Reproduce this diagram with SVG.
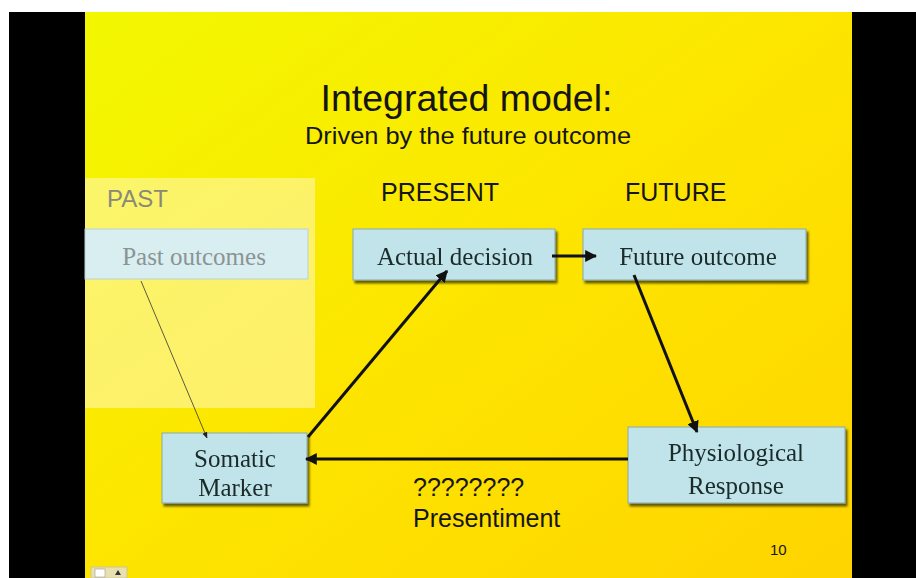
<svg xmlns="http://www.w3.org/2000/svg" width="916" height="578" viewBox="0 0 916 578">
<defs>
<linearGradient id="bg" x1="0" y1="0" x2="1" y2="1">
<stop offset="0" stop-color="#f2f800"/>
<stop offset="0.5" stop-color="#fde500"/>
<stop offset="1" stop-color="#ffd400"/>
</linearGradient>
<filter id="sh" x="-10%" y="-10%" width="130%" height="140%">
<feGaussianBlur in="SourceAlpha" stdDeviation="1.2"/>
<feOffset dx="2" dy="3" result="b"/>
<feComponentTransfer><feFuncA type="linear" slope="0.6"/></feComponentTransfer>
<feMerge><feMergeNode/><feMergeNode in="SourceGraphic"/></feMerge>
</filter>
<marker id="ah" viewBox="0 0 10 10" refX="9" refY="5" markerWidth="4" markerHeight="4" markerUnits="strokeWidth" orient="auto">
<path d="M0,0 L10,5 L0,10 z" fill="#111"/>
</marker>
<marker id="ahs" viewBox="0 0 10 10" refX="9" refY="5" markerWidth="8" markerHeight="8" markerUnits="strokeWidth" orient="auto">
<path d="M0,1 L10,5 L0,9 z" fill="#222"/>
</marker>
</defs>
<style>
.box{fill:#c0e4ea;stroke:#86a9b0;stroke-width:1}
.bt{font-family:"Liberation Serif",serif;font-size:25px;fill:#1a2a2a;text-anchor:middle}
.st{font-family:"Liberation Sans",Arial,sans-serif;fill:#151515}
.conn{stroke:#111;stroke-width:3;fill:none}
</style>
<rect x="0" y="0" width="916" height="578" fill="#ffffff"/>
<rect x="9" y="12" width="907" height="566" fill="#000"/>
<rect x="85" y="12" width="767" height="566" fill="url(#bg)"/>
<rect x="85" y="178" width="230" height="230" fill="#fff8c0" opacity="0.55"/>
<text class="st" x="466.5" y="111" font-size="37.5" text-anchor="middle">Integrated model:</text>
<text class="st" x="468" y="144" font-size="24" text-anchor="middle" textLength="326" lengthAdjust="spacingAndGlyphs">Driven by the future outcome</text>
<text class="st" x="107" y="207" font-size="24" style="fill:#8a8878">PAST</text>
<text class="st" x="381" y="201" font-size="25">PRESENT</text>
<text class="st" x="625" y="201" font-size="25">FUTURE</text>
<g id="past-outcomes">
<rect x="85" y="229" width="223" height="50" fill="#d9eef0" stroke="#b8d2d4" stroke-width="1"/>
<text class="bt" x="194" y="265" style="fill:#8a9494">Past outcomes</text>
</g>
<g id="actual-decision" filter="url(#sh)">
<rect class="box" x="353" y="229" width="202" height="51"/>
<text class="bt" x="455" y="265">Actual decision</text>
</g>
<g id="future-outcome" filter="url(#sh)">
<rect class="box" x="583" y="229" width="223" height="51"/>
<text class="bt" x="698" y="265">Future outcome</text>
</g>
<g id="somatic-marker" filter="url(#sh)">
<rect class="box" x="162" y="433" width="145" height="70"/>
<text class="bt" x="235" y="467">Somatic</text>
<text class="bt" x="235" y="496">Marker</text>
</g>
<g id="physiological-response" filter="url(#sh)">
<rect class="box" x="628" y="427" width="217" height="76"/>
<text class="bt" x="736" y="461">Physiological</text>
<text class="bt" x="736" y="494">Response</text>
</g>
<g id="connectors">
<line class="conn" x1="552" y1="256" x2="596" y2="256" marker-end="url(#ah)"/>
<line class="conn" x1="308" y1="437" x2="447" y2="271" marker-end="url(#ah)"/>
<line class="conn" x1="634" y1="275" x2="697" y2="432" marker-end="url(#ah)"/>
<line class="conn" x1="628" y1="459" x2="306" y2="459" marker-end="url(#ah)"/>
<line x1="141" y1="281" x2="207" y2="438" stroke="#333" stroke-width="0.8" marker-end="url(#ahs)"/>
</g>
<text class="st" x="413" y="496" font-size="25">????????</text>
<text class="st" x="413" y="527" font-size="25">Presentiment</text>
<text class="st" x="770" y="555" font-size="15">10</text>
<g id="icon">
<rect x="91" y="567" width="36" height="11" fill="#e8e0b0" stroke="#c8c090" stroke-width="0.8"/>
<rect x="95" y="569" width="10" height="8" fill="#fff" stroke="#999" stroke-width="0.6"/>
<path d="M115,575 L118,570 L121,575 z" fill="#333"/>
</g>
</svg>
